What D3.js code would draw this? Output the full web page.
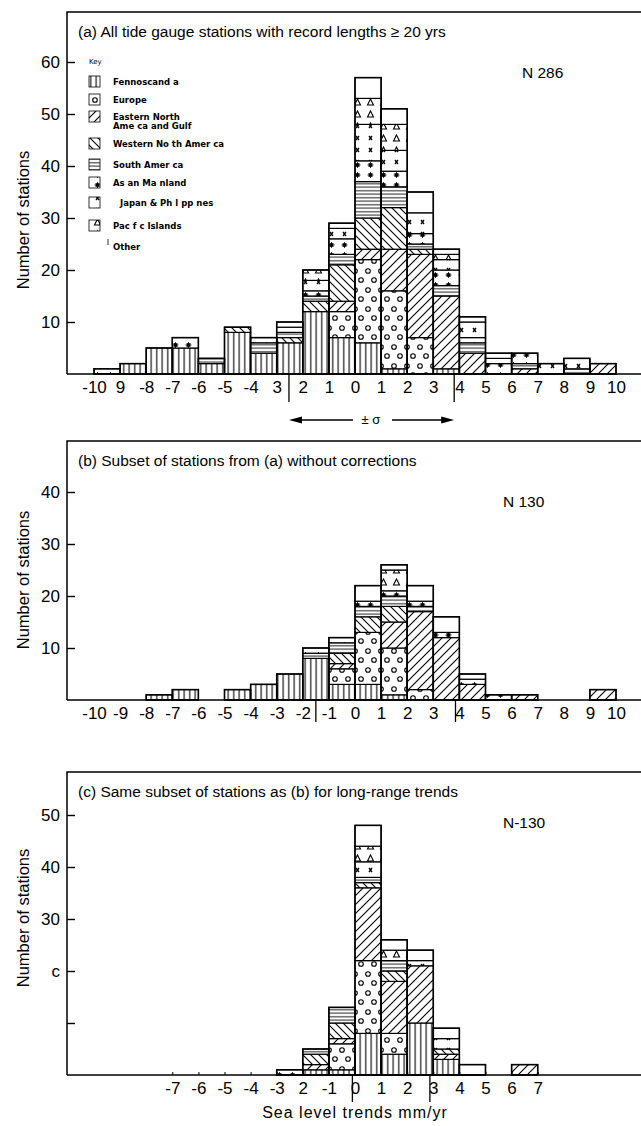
<!DOCTYPE html>
<html><head><meta charset="utf-8">
<script src="https://cdn.jsdelivr.net/npm/d3@7"></script>
<style>body{margin:0;background:#fff} svg{display:block}</style>
</head><body><svg id="chart" width="641" height="1126"></svg>
<script>
// ---------------- DATA ----------------
const categories = ["Fennoscandia","Europe","EastNA","WestNA","SouthAm","Asian","Japan","Pacific","Other"];
const legendLabels = [["Fennoscand a"],["Europe"],["Eastern North","Ame ca and Gulf"],["Western No th Amer ca"],["South Amer ca"],["As an Ma nland"],["Japan & Ph l pp nes"],["Pac f c Islands"],["Other"]];
const binStarts = [-10,-9,-8,-7,-6,-5,-4,-3,-2,-1,0,1,2,3,4,5,6,7,8,9];

// (a) all stations, N 286
const aFenno   = [0,2,5,5,2,8,4,6,12,7,6,1,0,1,0,0,0,0,0,0];
const aEurope  = [0,0,0,0,0,0,0,0,0,5,16,15,7,0,0,0,0,0,0,0];
const aEastNA  = [0,0,0,0,0,0,0,0,0,2,2,8,16,14,4,0,1,0,0,2];
const aWestNA  = [0,0,0,0,0,1,0,1,2,7,6,8,1,0,0,0,0,0,0,0];
const aSouthAm = [0,0,0,0,1,0,2,1,1,2,7,4,1,2,2,0,1,0,1,0];
const aAsian   = [1,0,0,2,0,0,1,1,1,3,4,3,2,3,1,2,2,0,0,0];
const aJapan   = [0,0,0,0,0,0,0,0,2,2,7,4,4,2,3,1,0,2,2,0];
const aPacific = [0,0,0,0,0,0,0,0,2,0,5,5,0,1,0,0,0,0,0,0];
const aOther   = [0,0,0,0,0,0,0,1,0,1,4,3,4,1,1,1,0,0,0,0];

// (b) subset without corrections, N 130
const bFenno   = [0,0,1,2,0,2,3,5,8,3,3,1,0,0,0,0,0,0,0,0];
const bEurope  = [0,0,0,0,0,0,0,0,0,3,10,9,2,0,0,0,0,0,0,0];
const bEastNA  = [0,0,0,0,0,0,0,0,0,1,0,5,15,12,3,0,1,0,0,2];
const bWestNA  = [0,0,0,0,0,0,0,0,0,2,3,3,0,0,0,0,0,0,0,0];
const bSouthAm = [0,0,0,0,0,0,0,0,1,2,2,2,1,0,0,0,0,0,0,0];
const bAsian   = [0,0,0,0,0,0,0,0,1,1,1,1,1,1,1,1,0,0,0,0];
const bJapan   = [0,0,0,0,0,0,0,0,0,0,0,0,0,0,0,0,0,0,0,0];
const bPacific = [0,0,0,0,0,0,0,0,0,0,0,4,0,0,0,0,0,0,0,0];
const bOther   = [0,0,0,0,0,0,0,0,0,0,3,1,3,3,1,0,0,0,0,0];

// (c) same subset, long-range trends, N-130
const cFenno   = [0,0,0,0,0,0,0,0,1,1,8,4,10,3,0,0,0,0,0,0];
const cEurope  = [0,0,0,0,0,0,0,0,0,5,14,4,0,0,0,0,0,0,0,0];
const cEastNA  = [0,0,0,0,0,0,0,0,1,1,14,10,11,1,0,0,2,0,0,0];
const cWestNA  = [0,0,0,0,0,0,0,0,2,3,1,2,0,1,0,0,0,0,0,0];
const cSouthAm = [0,0,0,0,0,0,0,0,1,3,1,2,0,0,0,0,0,0,0,0];
const cAsian   = [0,0,0,0,0,0,0,1,0,0,0,0,0,0,0,0,0,0,0,0];
const cJapan   = [0,0,0,0,0,0,0,0,0,0,3,0,1,2,0,0,0,0,0,0];
const cPacific = [0,0,0,0,0,0,0,0,0,0,3,2,0,0,0,0,0,0,0,0];
const cOther   = [0,0,0,0,0,0,0,0,0,0,4,2,2,2,2,0,0,0,0,0];

// tick labels (as printed)
const xTicksA = [-10,-9,-8,-7,-6,-5,-4,-3,-2,-1,0,1,2,3,4,5,6,7,8,9,10];
const xLabelsA = ["-10","9","-8","-7","-6","-5","-4","3","2","1","0","1","2","3","4","5","6","7","8","9","10"];
const xTicksB = xTicksA;
const xLabelsB = ["-10","-9","-8","-7","-6","-5","-4","-3","-2","-1","0","1","2","3","4","5","6","7","8","9","10"];
const xTicksC = [-7,-6,-5,-4,-3,-2,-1,0,1,2,3,4,5,6,7];
const xLabelsC = ["-7","-6","-5","-4","-3","2","-1","0","1","2","3","4","5","6","7"];
const yTicksA = [10,20,30,40,50,60];
const yLabelsA = ["10","20","30","40","50","60"];
const yTicksB = [10,20,30,40];
const yLabelsB = ["10","20","30","40"];
const yTicksC = [10,20,30,40,50];
const yLabelsC = ["","c","30","40","50"];
// mean ± sigma markers
const sigmaA = [-2.53, 3.8];
const sigmaB = [-1.5, 3.85];
const sigmaC = [-0.1, 2.87];

const titles = ["(a)  All tide gauge stations with record lengths \u2265 20 yrs",
                "(b)  Subset of stations from (a) without corrections",
                "(c)  Same subset of stations as (b) for long-range trends"];
const nLabels = ["N  286","N  130","N-130"];

// ---------------- DRAW ----------------
const svg = d3.select("#chart");
const FONT = "'Liberation Sans', Arial, Helvetica, sans-serif";
const defs = svg.append("defs");

function pat(id, w, h, draw){
  const p = defs.append("pattern").attr("id", id).attr("patternUnits","userSpaceOnUse")
    .attr("width", w).attr("height", h);
  p.append("rect").attr("width", w).attr("height", h).attr("fill","#fff");
  draw(p);
}
pat("p0", 5.5, 10, p => p.append("line").attr("x1",2.7).attr("x2",2.7).attr("y1",0).attr("y2",10).attr("stroke","#000").attr("stroke-width",1.1));
pat("p1", 13, 19, p => { p.append("circle").attr("cx",4).attr("cy",5).attr("r",2.3).attr("fill","none").attr("stroke","#000").attr("stroke-width",1.1);
                         p.append("circle").attr("cx",10).attr("cy",14).attr("r",2.3).attr("fill","none").attr("stroke","#000").attr("stroke-width",1.1); });
pat("p2", 9, 9, p => p.append("path").attr("d","M0,9L9,0M-2,2L2,-2M7,11L11,7").attr("stroke","#000").attr("stroke-width",1.1));
pat("p3", 8, 8, p => p.append("path").attr("d","M0,0L8,8M-2,6L2,10M6,-2L10,2").attr("stroke","#000").attr("stroke-width",1.1));
pat("p4", 10, 3.5, p => p.append("line").attr("x1",0).attr("x2",10).attr("y1",1.7).attr("y2",1.7).attr("stroke","#000").attr("stroke-width",0.9));
pat("p5", 13, 10, p => { p.append("circle").attr("cx",6.5).attr("cy",5).attr("r",2).attr("fill","#000");
                         p.append("path").attr("d","M3.5,5H9.5M6.5,2V8M4.5,3L8.5,7M8.5,3L4.5,7").attr("stroke","#000").attr("stroke-width",0.8); });
pat("p6", 13, 12, p => p.append("path").attr("d","M5,4L8,8M8,4L5,8").attr("stroke","#000").attr("stroke-width",1.3));
pat("p7", 13, 12, p => p.append("path").attr("d","M6.5,3L9.5,9H3.5Z").attr("fill","none").attr("stroke","#000").attr("stroke-width",1.1));
pat("p8", 4, 4, p => {});

const x = d3.scaleLinear().domain([-10,10]).range([94,616]);
const AXIS_X = 67;

const panels = [
  {series:[aFenno,aEurope,aEastNA,aWestNA,aSouthAm,aAsian,aJapan,aPacific,aOther], top:12, base:374, ymax:60,
   yT:yTicksA, yL:yLabelsA, xT:xTicksA, xL:xLabelsA, sigma:sigmaA, sigLen:28, ylabY:220, nPos:[522,78], xTickMarks:false},
  {series:[bFenno,bEurope,bEastNA,bWestNA,bSouthAm,bAsian,bJapan,bPacific,bOther], top:441, base:700, ymax:40,
   yT:yTicksB, yL:yLabelsB, xT:xTicksB, xL:xLabelsB, sigma:sigmaB, sigLen:22, ylabY:580, nPos:[503,507], xTickMarks:false},
  {series:[cFenno,cEurope,cEastNA,cWestNA,cSouthAm,cAsian,cJapan,cPacific,cOther], top:772, base:1075, ymax:50,
   yT:yTicksC, yL:yLabelsC, xT:xTicksC, xL:xLabelsC, sigma:sigmaC, sigLen:27, ylabY:918, nPos:[503,828], xTickMarks:true}
];

panels.forEach((P, pi) => {
  const y = d3.scaleLinear().domain([0, P.ymax]).range([P.base, P.base - P.ymax*5.2]);
  const g = svg.append("g");
  const rows = binStarts.map((b, i) => { const r = {bin:b}; categories.forEach((c, k) => r[c] = P.series[k][i]); return r; });
  const stack = d3.stack().keys(categories)(rows);

  // frame
  g.append("path").attr("d", `M${AXIS_X},${P.base}V${P.top}H641`).attr("fill","none").attr("stroke","#000").attr("stroke-width",1.5);

  // bars
  stack.forEach((layer, k) => {
    g.selectAll(null).data(layer.filter(d => d[1] - d[0] > 0)).join("rect")
      .attr("x", d => x(d.data.bin)).attr("width", d => x(d.data.bin + 1) - x(d.data.bin))
      .attr("y", d => y(d[1])).attr("height", d => y(d[0]) - y(d[1]))
      .attr("fill", `url(#p${k})`).attr("stroke","#000").attr("stroke-width",1.2);
  });
  // bar outlines (total)
  const totals = rows.map(r => ({bin:r.bin, t:d3.sum(categories, c => r[c])})).filter(d => d.t > 0);
  g.selectAll(null).data(totals).join("rect")
    .attr("x", d => x(d.bin)).attr("width", d => x(d.bin+1) - x(d.bin))
    .attr("y", d => y(d.t)).attr("height", d => y(0) - y(d.t))
    .attr("fill","none").attr("stroke","#000").attr("stroke-width",1.5);

  // baseline
  g.append("line").attr("x1", AXIS_X).attr("x2", 641).attr("y1", P.base).attr("y2", P.base).attr("stroke","#000").attr("stroke-width",1.7);

  // y axis
  const ya = d3.axisLeft(y).tickValues(P.yT).tickFormat((d,i) => P.yL[i]).tickSize(-8).tickPadding(7);
  const yg = g.append("g").attr("transform", `translate(${AXIS_X},0)`).call(ya);
  yg.select(".domain").remove();
  yg.selectAll("line").attr("stroke-width",1.4);
  yg.selectAll("text").attr("font-family", FONT).attr("font-size", 17).attr("fill","#000");

  // x axis
  const xa = d3.axisBottom(x).tickValues(P.xT).tickFormat((d,i) => P.xL[i]).tickSize(P.xTickMarks ? -3 : 0).tickPadding(7);
  const xg = g.append("g").attr("transform", `translate(0,${P.base})`).call(xa);
  xg.select(".domain").remove();
  xg.selectAll("text").attr("font-family", FONT).attr("font-size", 17).attr("fill","#000");

  // sigma lines
  g.selectAll(null).data(P.sigma).join("line")
    .attr("x1", d => x(d)).attr("x2", d => x(d)).attr("y1", P.base).attr("y2", P.base + P.sigLen)
    .attr("stroke","#000").attr("stroke-width",1.3);

  // y label
  g.append("text").attr("transform", `translate(29,${P.ylabY}) rotate(-90)`).attr("text-anchor","middle")
    .attr("font-family", FONT).attr("font-size", 16.5).text("Number of stations");

  // title
  g.append("text").attr("x", 78).attr("y", P.top + 25).attr("font-family", FONT).attr("font-size", 15.5).text(titles[pi]);
  // N
  g.append("text").attr("x", P.nPos[0]).attr("y", P.nPos[1]).attr("font-family", FONT).attr("font-size", 15.5).text(nLabels[pi]);
});

// sigma arrow in (a)
const arrowY = 420;
const ax0 = x(sigmaA[0]), ax1 = x(sigmaA[1]);
const ag = svg.append("g");
ag.append("line").attr("x1", ax0 + 8).attr("x2", 353).attr("y1", arrowY).attr("y2", arrowY).attr("stroke","#000").attr("stroke-width",1.4);
ag.append("line").attr("x1", 392).attr("x2", ax1 - 8).attr("y1", arrowY).attr("y2", arrowY).attr("stroke","#000").attr("stroke-width",1.4);
ag.append("path").attr("d", `M${ax0},${arrowY}L${ax0+13},${arrowY-3.5}L${ax0+13},${arrowY+3.5}Z`).attr("fill","#000");
ag.append("path").attr("d", `M${ax1},${arrowY}L${ax1-13},${arrowY-3.5}L${ax1-13},${arrowY+3.5}Z`).attr("fill","#000");
ag.append("text").attr("x", 371).attr("y", arrowY + 4).attr("text-anchor","middle").attr("font-family", FONT).attr("font-size", 13).text("\u00b1 \u03c3");

// legend (key) in (a)
const lg = svg.append("g");
lg.append("text").attr("x", 89).attr("y", 64).attr("font-family", "'DejaVu Sans', sans-serif").attr("font-size", 7).text("Key");
const legY = [82, 100, 117, 144, 165, 183, 203, 226, 247];
categories.forEach((c, k) => {
  const yy = legY[k];
  if (k < 8) {
    lg.append("rect").attr("x", 89).attr("y", yy - 6).attr("width", 11).attr("height", 11)
      .attr("fill", `url(#p${k})`).attr("stroke","#000").attr("stroke-width",0.8);
  } else {
    lg.append("line").attr("x1", 108).attr("x2", 108).attr("y1", yy - 8).attr("y2", yy - 2).attr("stroke","#000").attr("stroke-width",0.8);
  }
  legendLabels[k].forEach((t, j) => {
    lg.append("text").attr("x", k === 6 ? 120 : 113).attr("y", yy + 3 + j*9)
      .attr("font-family", "'DejaVu Sans', sans-serif").attr("font-size", 8.5).attr("font-weight", 600).text(t);
  });
});

// x axis title
svg.append("text").attr("x", 355).attr("y", 1118).attr("text-anchor","middle").attr("font-family", FONT)
  .attr("font-size", 16).attr("letter-spacing", 1).text("Sea level trends mm/yr");
</script>
</body></html>
